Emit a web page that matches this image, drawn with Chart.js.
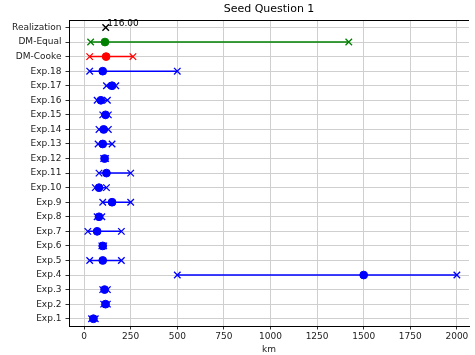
<!DOCTYPE html>
<html>
<head>
<meta charset="utf-8">
<script src="https://cdn.jsdelivr.net/npm/chart.js@4/dist/chart.umd.min.js"></script>
<style>
html,body{margin:0;padding:0;background:#fff;}
#wrap{width:475px;height:355px;}
</style>
</head>
<body>
<div id="wrap"><canvas id="c" width="475" height="355"></canvas></div>
<script>
// ---- data ----
const categories = ['Realization','DM-Equal','DM-Cooke','Exp.18','Exp.17','Exp.16','Exp.15','Exp.14','Exp.13','Exp.12','Exp.11','Exp.10','Exp.9','Exp.8','Exp.7','Exp.6','Exp.5','Exp.4','Exp.3','Exp.2','Exp.1'];
const expertLabels = ['Exp.1','Exp.2','Exp.3','Exp.4','Exp.5','Exp.6','Exp.7','Exp.8','Exp.9','Exp.10','Exp.11','Exp.12','Exp.13','Exp.14','Exp.15','Exp.16','Exp.17','Exp.18'];
const expertLow  = [40, 105, 100, 500, 30, 95, 20, 70, 100, 60, 80, 105, 75, 80, 100, 70, 120, 30];
const expertMed  = [50, 115, 110, 1500, 100, 100, 70, 80, 150, 80, 120, 110, 100, 105, 115, 90, 150, 100];
const expertHigh = [60, 125, 125, 2000, 200, 105, 200, 95, 250, 120, 250, 115, 150, 130, 130, 125, 170, 500];
const dmCooke = [30, 118, 262];   // low, median, high
const dmEqual = [35, 112, 1420];  // low, median, high
const realization = 116;
const xTicks = [0, 250, 500, 750, 1000, 1250, 1500, 1750, 2000];
const title = 'Seed Question 1';
const xTitle = 'km';

// ---- build datasets ----
const BLUE = '#0000ff', RED = '#ff0000', GREEN = '#008000';
const rows = [];
expertLabels.forEach((lab, i) => rows.push({label: lab, lo: expertLow[i], med: expertMed[i], hi: expertHigh[i], color: BLUE}));
rows.push({label: 'DM-Cooke', lo: dmCooke[0], med: dmCooke[1], hi: dmCooke[2], color: RED});
rows.push({label: 'DM-Equal', lo: dmEqual[0], med: dmEqual[1], hi: dmEqual[2], color: GREEN});

const datasets = [];
// medians (on top)
rows.forEach(r => datasets.push({
  data: [{x: r.med, y: r.label}],
  pointStyle: 'circle', pointRadius: 3.9, pointBackgroundColor: r.color, pointBorderColor: r.color, pointBorderWidth: 1,
  showLine: false
}));
// whisker ends
rows.forEach(r => datasets.push({
  data: [{x: r.lo, y: r.label}, {x: r.hi, y: r.label}],
  pointStyle: 'crossRot', pointRadius: 4.6, pointBorderColor: r.color, pointBackgroundColor: r.color, pointBorderWidth: 1.3,
  borderColor: r.color, borderWidth: 1.5, showLine: true
}));
// realization
datasets.push({
  data: [{x: realization, y: 'Realization'}],
  pointStyle: 'crossRot', pointRadius: 4.6, pointBorderColor: '#000', pointBorderWidth: 1.4, showLine: false
});

const FONT = "'DejaVu Sans', sans-serif";

const framePlugin = {
  id: 'frame',
  afterDraw(chart) {
    const ctx = chart.ctx, a = chart.chartArea;
    ctx.save();
    ctx.strokeStyle = '#000';
    ctx.lineWidth = 1;
    ctx.beginPath();
    ctx.moveTo(a.left, Math.round(a.top) + 0.5);
    ctx.lineTo(a.right, Math.round(a.top) + 0.5);
    ctx.stroke();
    // realization value text
    const xs = chart.scales.x, ys = chart.scales.y;
    const px = xs.getPixelForValue(realization);
    const py = ys.getPixelForValue(categories.indexOf('Realization'));
    ctx.fillStyle = '#000';
    ctx.font = '9px ' + FONT;
    ctx.textAlign = 'left';
    ctx.textBaseline = 'alphabetic';
    ctx.fillText(realization.toFixed(2), px + 1.5, py - 1.5);
    ctx.restore();
  }
};

new Chart(document.getElementById('c'), {
  type: 'scatter',
  data: {labels: categories, datasets},
  plugins: [framePlugin],
  options: {
    responsive: false,
    animation: false,
    layout: {padding: 0},
    plugins: {
      legend: {display: false},
      tooltip: {enabled: false},
      title: {display: true, text: title, fullSize: false, color: '#000',
              font: {family: FONT, size: 11, weight: 'normal'}, padding: {top: 3, bottom: 4}}
    },
    scales: {
      x: {
        type: 'linear', position: 'bottom', min: -81, max: 2065,
        afterBuildTicks: s => { s.ticks = xTicks.map(v => ({value: v})); },
        afterFit: s => { s.height = 29; },
        grid: {color: '#cfcfcf', lineWidth: 1, tickColor: '#333', tickLength: 3.5, drawTicks: true},
        border: {color: '#000', width: 1},
        ticks: {color: '#222', font: {family: FONT, size: 9}, padding: 2, maxRotation: 0, autoSkip: false,
                callback: v => String(v)},
        title: {display: true, text: xTitle, color: '#222', font: {family: FONT, size: 9}, padding: {top: 0, bottom: 0}}
      },
      y: {
        type: 'category', labels: categories, offset: true,
        afterFit: s => { s.width = 69; },
        grid: {color: '#cfcfcf', lineWidth: 1, tickColor: '#333', tickLength: 3.5, offset: false},
        border: {color: '#000', width: 1},
        ticks: {color: '#222', font: {family: FONT, size: 9}, padding: 4, autoSkip: false}
      }
    }
  }
});
</script>
</body>
</html>
